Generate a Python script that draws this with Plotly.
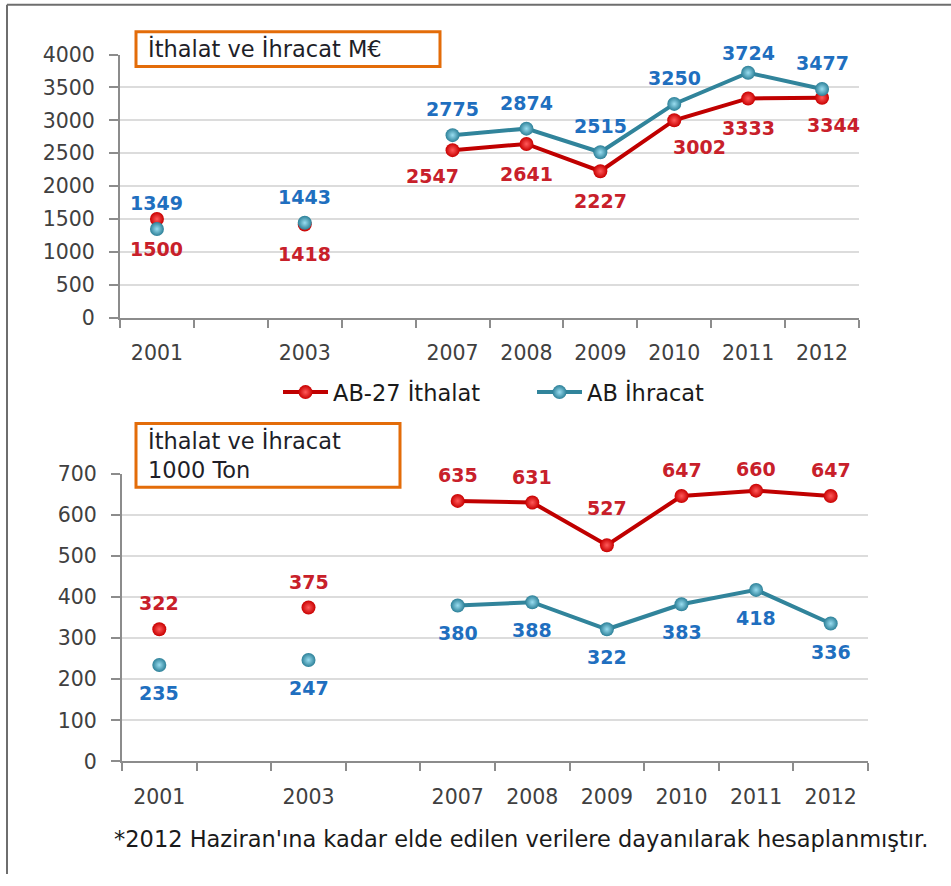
import plotly.graph_objects as go

W, H = 951, 886

# ---- data -------------------------------------------------------------
categories = ["2001", "", "2003", "", "2007", "2008", "2009", "2010", "2011", "2012"]

import_meur = [1500, None, 1418, None, 2547, 2641, 2227, 3002, 3333, 3344]
export_meur = [1349, None, 1443, None, 2775, 2874, 2515, 3250, 3724, 3477]

import_kton = [322, None, 375, None, 635, 631, 527, 647, 660, 647]
export_kton = [235, None, 247, None, 380, 388, 322, 383, 418, 336]

series_names = ["AB-27 İthalat", "AB İhracat"]
top_title = "İthalat ve İhracat M€"
bottom_title = "İthalat ve İhracat<br>1000 Ton"
footnote = "*2012 Haziran'ına kadar elde edilen verilere dayanılarak hesaplanmıştır."

# one slot per category; empty labels keep a gap on the axis
slots = list(range(len(categories)))
label_slots = [i for i, c in enumerate(categories) if c]
label_texts = [c for c in categories if c]

# ---- styling ----------------------------------------------------------
RED_LINE, RED_EDGE, RED_GLOW, RED_TXT = "#C00000", "#C80000", "#FF5A5A", "#C8202A"
TEAL_LINE, TEAL_EDGE, TEAL_GLOW, BLUE_TXT = "#31849B", "#2C8098", "#9ADDF0", "#1F6FBF"
AXIS = "#8C8C8C"
GRID = "#DCDCDC"
TICK_FONT = dict(family="DejaVu Sans", size=20.5, color="#404040")
LABEL_FONT = "DejaVu Sans"
TEXT_FONT = "DejaVu Sans"


def fx(px):
    return px / W


def fy(py):
    # page y (px from top) -> paper fraction, with the render's vertical fit
    return 1 - ((py - 10.3) / 0.976) / H


fig = go.Figure()


def add_series(y, name, line_c, edge_c, glow_c, xa, ya, show_legend):
    fig.add_trace(go.Scatter(
        x=slots, y=y, name=name, mode="lines+markers",
        xaxis=xa, yaxis=ya, connectgaps=False, showlegend=show_legend,
        line=dict(color=line_c, width=4),
        marker=dict(size=14, color=edge_c, line=dict(width=0),
                    gradient=dict(type="radial", color=glow_c)),
    ))


add_series(import_meur, series_names[0], RED_LINE, RED_EDGE, RED_GLOW, "x", "y", True)
add_series(export_meur, series_names[1], TEAL_LINE, TEAL_EDGE, TEAL_GLOW, "x", "y", True)
add_series(import_kton, series_names[0], RED_LINE, RED_EDGE, RED_GLOW, "x2", "y2", False)
add_series(export_kton, series_names[1], TEAL_LINE, TEAL_EDGE, TEAL_GLOW, "x2", "y2", False)

# ---- value labels -----------------------------------------------------
annotations = []


def add_labels(values, color, xref, yref, dy, tweaks):
    for i, (cat, v) in enumerate(zip(categories, values)):
        if v is None:
            continue
        dx, ddy = tweaks.get(cat, (0, dy))
        annotations.append(dict(
            x=i, y=v, xref=xref, yref=yref, text=str(v), showarrow=False,
            xshift=dx, yshift=ddy,
            font=dict(family=LABEL_FONT, size=19, color=color, weight="bold"),
        ))


add_labels(import_meur, RED_TXT, "x", "y", -30,
           {"2007": (-20, -26), "2010": (25, -27), "2012": (11, -27)})
add_labels(export_meur, BLUE_TXT, "x", "y", 26, {"2011": (0, 20)})
add_labels(import_kton, RED_TXT, "x2", "y2", 26, {"2009": (0, 37), "2011": (0, 22)})
add_labels(export_kton, BLUE_TXT, "x2", "y2", -28, {})

# ---- title boxes and footnote -----------------------------------------
TITLE_FONT = dict(family=TEXT_FONT, size=22.5, color="#1E1E28")
annotations.append(dict(x=fx(146), y=fy(47), xref="paper", yref="paper",
                        xanchor="left", yanchor="middle", text=top_title,
                        showarrow=False, font=TITLE_FONT))
annotations.append(dict(x=fx(146), y=fy(455), xref="paper", yref="paper",
                        xanchor="left", yanchor="middle", text=bottom_title,
                        showarrow=False, align="left", font=TITLE_FONT))
annotations.append(dict(x=fx(112), y=fy(840), xref="paper", yref="paper",
                        xanchor="left", yanchor="middle", text=footnote,
                        showarrow=False, font=dict(family=TEXT_FONT, size=22.5, color="#1A1A1A")))

ORANGE = "#E36C09"
shapes = [
    dict(type="rect", xref="paper", yref="paper", x0=fx(136), x1=fx(440),
         y0=fy(30), y1=fy(65), line=dict(color=ORANGE, width=3), fillcolor="white", layer="below"),
    dict(type="rect", xref="paper", yref="paper", x0=fx(136), x1=fx(400),
         y0=fy(423), y1=fy(487), line=dict(color=ORANGE, width=3), fillcolor="white", layer="below"),
    # outer frame
    dict(type="line", xref="paper", yref="paper", x0=fx(7), x1=fx(7), y0=fy(3), y1=0,
         line=dict(color="#6E6E6E", width=2)),
    dict(type="line", xref="paper", yref="paper", x0=fx(7), x1=1, y0=fy(3), y1=fy(3),
         line=dict(color="#6E6E6E", width=2)),
]


# ---- axes ------------------------------------------------------------
def xaxis(domain, anchor):
    return dict(domain=domain, anchor=anchor, type="linear",
                range=[-0.5, len(categories) - 0.5],
                tickmode="array", tickvals=label_slots, ticktext=label_texts,
                ticks="", showline=True, linecolor=AXIS, linewidth=2,
                minor=dict(tickmode="array",
                           tickvals=[i - 0.5 for i in range(len(categories) + 1)],
                           ticks="outside", ticklen=8, tickwidth=2, tickcolor=AXIS,
                           showgrid=False),
                showgrid=False, zeroline=False, tickfont=TICK_FONT,
                ticklabelstandoff=16, fixedrange=True)


def yaxis(domain, anchor, top, step):
    return dict(domain=domain, anchor=anchor, range=[0, top], dtick=step, tick0=0,
                ticks="outside", ticklen=9, tickwidth=2, tickcolor=AXIS,
                showline=True, linecolor=AXIS, linewidth=2,
                showgrid=True, gridcolor=GRID, gridwidth=2, zeroline=False,
                tickfont=TICK_FONT, ticklabelstandoff=10, fixedrange=True)


fig.update_layout(
    width=W, height=H,
    margin=dict(l=0, r=0, t=0, b=0),
    paper_bgcolor="white", plot_bgcolor="white",
    xaxis=xaxis([fx(120), fx(859)], "y"),
    yaxis=yaxis([fy(317), fy(53)], "x", 4000, 500),
    xaxis2=xaxis([fx(122), fx(868)], "y2"),
    yaxis2=yaxis([fy(762), fy(474)], "x2", 700, 100),
    legend=dict(orientation="h", x=fx(278), xanchor="left", y=fy(392), yanchor="middle",
                font=dict(family=TEXT_FONT, size=22.5, color="#1A1A1A"),
                bgcolor="rgba(0,0,0,0)", entrywidth=194, itemwidth=45),
    annotations=annotations,
    shapes=shapes,
)

fig.write_html("out.html")
